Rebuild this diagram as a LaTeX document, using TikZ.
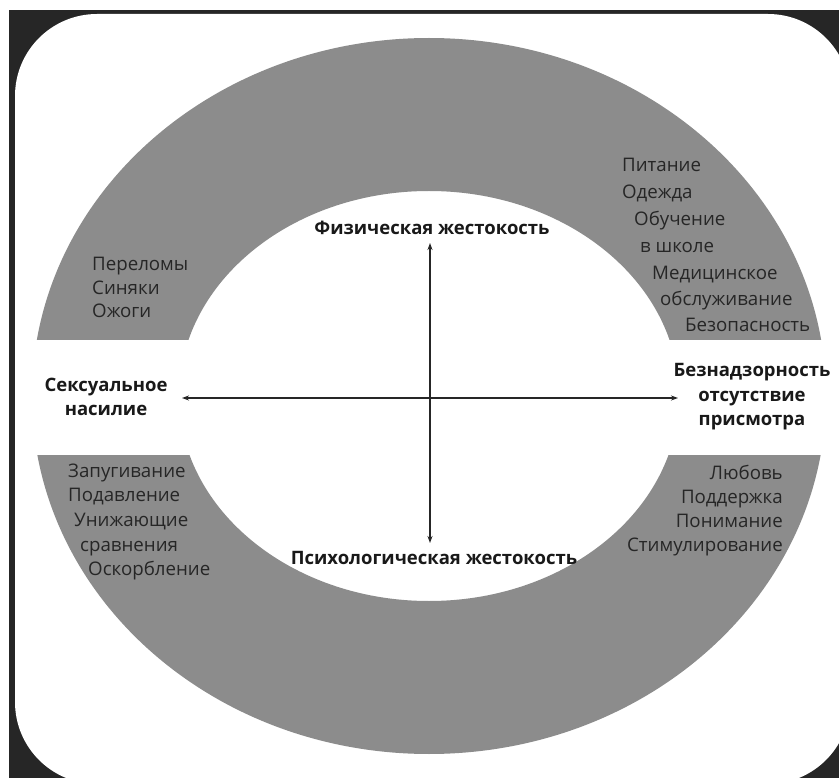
\documentclass[tikz,border=0pt]{standalone}
\usepackage{fontspec}
\setmainfont{Open Sans}
\usetikzlibrary{arrows.meta}

\begin{document}
\begin{tikzpicture}
[
x=1pt, y=-1pt,
ring/.style={fill=black!45, draw=none},
heading/.style={font=\bfseries\fontsize{18.5}{24.5}\selectfont, text=black!90, align=center, inner sep=0pt},
item/.style={font=\fontsize{18.7}{20}\selectfont, text=black!85, anchor=base west, inner sep=0pt},
itemr/.style={item, anchor=base east},
axis/.style={line width=2.6pt, draw=black!85, {Stealth[length=7pt,width=5pt]}-{Stealth[length=7pt,width=5pt]}},
]

\useasboundingbox (0,0) rectangle (839,778);

%Frame of the page
\fill[black!85] (9,10) rectangle (839,778);
\fill[white, rounded corners=82pt] (15,14) rectangle (850,784);

%The ring, cut at the sides
\begin{scope}
\clip (0,0) rectangle (839,340) (0,455) rectangle (839,778);
\fill[ring, even odd rule] (429,396) ellipse [x radius=397pt, y radius=358pt]
                           (429,396) ellipse [x radius=250pt, y radius=205pt];
\end{scope}

%Place the nodes
\node[heading] (phys) at (432,228) {Физическая жестокость};
\node[heading] (psych) at (434,558) {Психологическая жестокость};
\node[heading] (sex) at (106,397) {Сексуальное\\насилие};
\node[heading] (negl) at (752,397) {Безнадзорность\\отсутствие\\присмотра};

\node[item] (fract) at (92,271) {Переломы};
\node[item] (bruise) at (92,295) {Синяки};
\node[item] (burn) at (92,318) {Ожоги};

\node[item] (food) at (622,172) {Питание};
\node[item] (cloth) at (622,199) {Одежда};
\node[item] (study) at (634,226) {Обучение};
\node[item] (school) at (640,253) {в школе};
\node[item] (med) at (652,280) {Медицинское};
\node[item] (service) at (660,306) {обслуживание};
\node[item] (safety) at (685,332) {Безопасность};

\node[item] (fear) at (68,477) {Запугивание};
\node[item] (suppr) at (68,501) {Подавление};
\node[item] (humil) at (74,526) {Унижающие};
\node[item] (compar) at (80,551) {сравнения};
\node[item] (insult) at (88,575) {Оскорбление};

\node[itemr] (love) at (783,479) {Любовь};
\node[itemr] (support) at (783,503) {Поддержка};
\node[itemr] (underst) at (783,527) {Понимание};
\node[itemr] (stim) at (783,551) {Стимулирование};

%Draw the axes
\coordinate (top) at (430,243);
\coordinate (bot) at (430,543);
\coordinate (west) at (182,398);
\coordinate (east) at (678,398);
\draw[axis] (bot) -- (top);
\draw[axis] (west) -- (east);
\end{tikzpicture}
\end{document}
